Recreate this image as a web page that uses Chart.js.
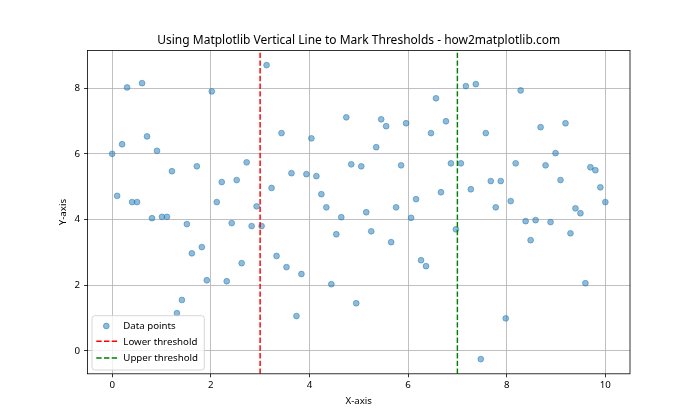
<!DOCTYPE html>
<html><head><meta charset="utf-8">
<script src="https://cdn.jsdelivr.net/npm/chart.js@4.4.0/dist/chart.umd.min.js"></script>
<style>html,body{margin:0;padding:0;background:#fff}</style>
</head><body>
<canvas id="c" width="700" height="420"></canvas>
<script>
const xValues = [0, 0.101, 0.202, 0.303, 0.404, 0.505, 0.606, 0.707, 0.808, 0.909,
  1.010, 1.111, 1.212, 1.313, 1.414, 1.515, 1.616, 1.717, 1.818, 1.919,
  2.020, 2.121, 2.222, 2.323, 2.424, 2.525, 2.626, 2.727, 2.828, 2.929,
  3.030, 3.131, 3.232, 3.333, 3.434, 3.535, 3.636, 3.737, 3.838, 3.939,
  4.040, 4.141, 4.242, 4.343, 4.444, 4.545, 4.646, 4.747, 4.848, 4.949,
  5.051, 5.152, 5.253, 5.354, 5.455, 5.556, 5.657, 5.758, 5.859, 5.960,
  6.061, 6.162, 6.263, 6.364, 6.465, 6.566, 6.667, 6.768, 6.869, 6.970,
  7.071, 7.172, 7.273, 7.374, 7.475, 7.576, 7.677, 7.778, 7.879, 7.980,
  8.081, 8.182, 8.283, 8.384, 8.485, 8.586, 8.687, 8.788, 8.889, 8.990,
  9.091, 9.192, 9.293, 9.394, 9.495, 9.596, 9.697, 9.798, 9.899, 10.0];
const yValues = [6.00, 4.72, 6.29, 8.02, 4.53, 4.53, 8.15, 6.53, 4.04, 6.09,
  4.08, 4.08, 5.47, 1.15, 1.55, 3.86, 2.97, 5.62, 3.16, 2.15,
  7.90, 4.53, 5.14, 2.12, 3.89, 5.20, 2.67, 5.74, 3.80, 4.40,
  3.80, 8.70, 4.96, 2.89, 6.63, 2.55, 5.41, 1.06, 2.34, 5.38,
  6.47, 5.32, 4.77, 4.37, 2.03, 3.55, 4.07, 7.11, 5.68, 1.45,
  5.62, 4.22, 3.64, 6.20, 7.05, 6.84, 3.31, 4.37, 5.65, 6.93,
  4.05, 4.62, 2.76, 2.58, 6.63, 7.69, 4.83, 6.99, 5.71, 3.70,
  5.71, 8.06, 4.92, 8.12, -0.25, 6.63, 5.17, 4.37, 5.17, 0.99,
  4.56, 5.71, 7.93, 3.95, 3.37, 3.98, 6.81, 5.65, 3.92, 6.02,
  5.20, 6.93, 3.58, 4.34, 4.19, 2.06, 5.59, 5.50, 4.98, 4.53];
const thresholds = [3, 7];
const seriesNames = ['Data points', 'Lower threshold', 'Upper threshold'];
const seriesColors = ['rgba(31,119,180,0.5)', '#ff0000', '#008000'];
const xTicks = [0, 2, 4, 6, 8, 10];
const yTicks = [0, 2, 4, 6, 8];
const xLimits = [-0.5, 10.5];
const yLimits = [-0.6975, 9.1475];
const titleText = 'Using Matplotlib Vertical Line to Mark Thresholds - how2matplotlib.com';
const xLabel = 'X-axis';
const yLabel = 'Y-axis';

const FONT = '"Noto Sans", "Open Sans", sans-serif';
const dash = [5.4, 2.3];

const points = xValues.map((x, i) => ({x: x, y: yValues[i]}));
const vline = v => [{x: v, y: yLimits[0]}, {x: v, y: yLimits[1]}];

const overlay = {
  id: 'overlay',
  afterDraw(chart) {
    const ctx = chart.ctx, a = chart.chartArea;
    ctx.save();
    // frame
    ctx.strokeStyle = '#000'; ctx.lineWidth = 0.8; ctx.setLineDash([]);
    ctx.strokeRect(a.left, a.top, a.right - a.left, a.bottom - a.top);
    // title
    ctx.fillStyle = '#000';
    ctx.font = '12px ' + FONT;
    ctx.textAlign = 'center'; ctx.textBaseline = 'alphabetic';
    ctx.fillText(titleText, (a.left + a.right) / 2, 44);
    // legend
    const lx = 92, ly = 315.7, lw = 112.3, lh = 54.3, r = 2.8;
    ctx.beginPath();
    ctx.moveTo(lx + r, ly); ctx.lineTo(lx + lw - r, ly); ctx.quadraticCurveTo(lx + lw, ly, lx + lw, ly + r);
    ctx.lineTo(lx + lw, ly + lh - r); ctx.quadraticCurveTo(lx + lw, ly + lh, lx + lw - r, ly + lh);
    ctx.lineTo(lx + r, ly + lh); ctx.quadraticCurveTo(lx, ly + lh, lx, ly + lh - r);
    ctx.lineTo(lx, ly + r); ctx.quadraticCurveTo(lx, ly, lx + r, ly); ctx.closePath();
    ctx.fillStyle = 'rgba(255,255,255,0.8)'; ctx.fill();
    ctx.strokeStyle = '#cccccc'; ctx.lineWidth = 0.8; ctx.stroke();
    const rows = [326, 341.3, 358];
    const bases = [329.2, 344.6, 361.3];
    // marker
    ctx.beginPath(); ctx.arc(106.3, rows[0], 2.9, 0, Math.PI * 2);
    ctx.fillStyle = seriesColors[0]; ctx.fill();
    ctx.strokeStyle = seriesColors[0]; ctx.lineWidth = 0.97; ctx.stroke();
    for (let k = 1; k < 3; k++) {
      ctx.beginPath(); ctx.setLineDash(dash); ctx.lineWidth = 1.46;
      ctx.strokeStyle = seriesColors[k];
      ctx.moveTo(96.3, rows[k]); ctx.lineTo(117.3, rows[k]); ctx.stroke();
    }
    ctx.setLineDash([]);
    ctx.fillStyle = '#000'; ctx.font = '9.7px ' + FONT; ctx.textAlign = 'left';
    for (let k = 0; k < 3; k++) ctx.fillText(seriesNames[k], 123.3, bases[k]);
    ctx.restore();
  }
};

const tickFont = {family: FONT, size: 9.7};
new Chart(document.getElementById('c'), {
  type: 'scatter',
  data: {
    datasets: [
      {label: seriesNames[0], data: points, backgroundColor: seriesColors[0], borderColor: seriesColors[0],
       borderWidth: 0.97, pointRadius: 2.9, order: 2},
      {label: seriesNames[1], type: 'line', data: vline(thresholds[0]), showLine: true, borderColor: seriesColors[1],
       borderWidth: 1.46, borderDash: dash, pointRadius: 0, fill: false, order: 1},
      {label: seriesNames[2], type: 'line', data: vline(thresholds[1]), showLine: true, borderColor: seriesColors[2],
       borderWidth: 1.46, borderDash: dash, pointRadius: 0, fill: false, order: 1}
    ]
  },
  options: {
    responsive: false, animation: false, devicePixelRatio: 1, events: [],
    layout: {padding: {top: 50.4, right: 70, left: 0, bottom: 0}},
    plugins: {legend: {display: false}, tooltip: {enabled: false}, title: {display: false}},
    scales: {
      x: {
        type: 'linear', min: xLimits[0], max: xLimits[1],
        afterBuildTicks: s => { s.ticks = xTicks.map(v => ({value: v})); },
        afterFit: s => { s.height = 46.2; },
        grid: {color: '#b0b0b0', lineWidth: 0.8, drawTicks: true, tickLength: 3.5, tickColor: '#000', tickWidth: 0.8},
        border: {display: false},
        ticks: {font: tickFont, color: '#000', padding: 2, maxRotation: 0, autoSkip: false},
        title: {display: true, text: xLabel, font: tickFont, color: '#000', padding: {top: 0, bottom: 13.2}}
      },
      y: {
        type: 'linear', min: yLimits[0], max: yLimits[1],
        afterBuildTicks: s => { s.ticks = yTicks.map(v => ({value: v})); },
        afterFit: s => { s.width = 87.5; },
        grid: {color: '#b0b0b0', lineWidth: 0.8, drawTicks: true, tickLength: 3.5, tickColor: '#000', tickWidth: 0.8},
        border: {display: false},
        ticks: {font: tickFont, color: '#000', padding: 4, autoSkip: false},
        title: {display: true, text: yLabel, font: tickFont, color: '#000', padding: {top: 57.2, bottom: 0}}
      }
    }
  },
  plugins: [overlay]
});
</script>
</body></html>
